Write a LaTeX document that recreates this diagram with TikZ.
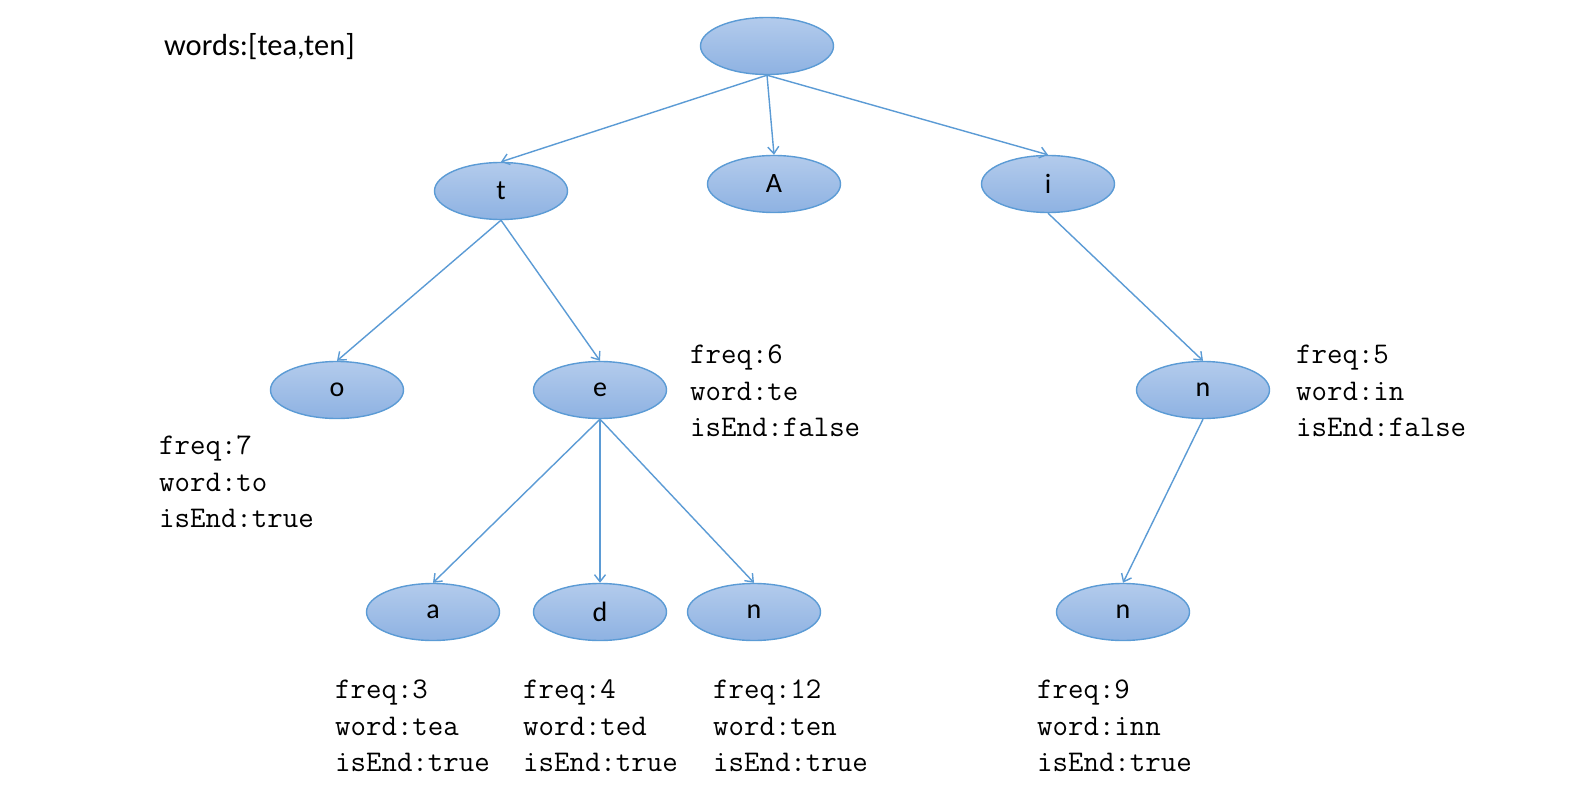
\documentclass[tikz,border=0pt]{standalone}
\usepackage{fontspec}
\setmainfont{Carlito}
\usetikzlibrary{shapes.geometric,arrows.meta}
\definecolor{edgeblue}{HTML}{5B9BD5}
\definecolor{topblue}{HTML}{B3CBEC}
\definecolor{botblue}{HTML}{8EB2E2}
\tikzset{
  tnode/.style={ellipse, draw=edgeblue, line width=1.4pt, top color=topblue, bottom color=botblue,
    minimum width=133pt, minimum height=57pt, inner sep=0pt, font=\fontsize{28}{32}\selectfont},
  conn/.style={draw=edgeblue, line width=1.4pt, -{Straight Barb[length=7pt,width=11pt,line width=1.4pt]}},
  info/.style={anchor=west, inner sep=0pt, align=left, font=\ttfamily\fontsize{30}{36.5}\selectfont}
}
\begin{document}
\begin{tikzpicture}[x=1pt,y=-1pt]
\useasboundingbox[fill=white] (0,0) rectangle (1574,810);
\node[anchor=west, inner sep=0pt, font=\fontsize{30.5}{34}\selectfont] (title) at (164,47) {words:[tea,ten]};
\node[tnode] (root) at (767,46) {};
\node[tnode] (t) at (501,191) {t};
\node[tnode] (A) at (774,184) {A};
\node[tnode] (i) at (1048,184) {i};
\node[tnode] (o) at (337,390) {o};
\node[tnode] (e) at (600,390) {e};
\node[tnode] (n1) at (1203,390) {n};
\node[tnode] (a) at (433,612) {a};
\node[tnode] (d) at (600,612) {d};
\node[tnode] (n2) at (754,612) {n};
\node[tnode] (n3) at (1123,612) {n};
\draw[conn] (root.south) -- (t.north);
\draw[conn] (root.south) -- (A.north);
\draw[conn] (root.south) -- (i.north);
\draw[conn] (t.south) -- (o.north);
\draw[conn] (t.south) -- (e.north);
\draw[conn] (i.south) -- (n1.north);
\draw[conn] (e.south) -- (a.north);
\draw[conn] (e.south) -- (d.north);
\draw[conn] (e.south) -- (n2.north);
\draw[conn] (n1.south) -- (n3.north);
\node[info] (io) at (159,482) {freq:7\\word:to\\isEnd:true};
\node[info] (ie) at (690,391) {freq:6\\word:te\\isEnd:false};
\node[info] (in1) at (1296,391) {freq:5\\word:in\\isEnd:false};
\node[info] (ia) at (335,726) {freq:3\\word:tea\\isEnd:true};
\node[info] (id) at (523,726) {freq:4\\word:ted\\isEnd:true};
\node[info] (in2) at (713,726) {freq:12\\word:ten\\isEnd:true};
\node[info] (in3) at (1037,726) {freq:9\\word:inn\\isEnd:true};
\end{tikzpicture}
\end{document}
